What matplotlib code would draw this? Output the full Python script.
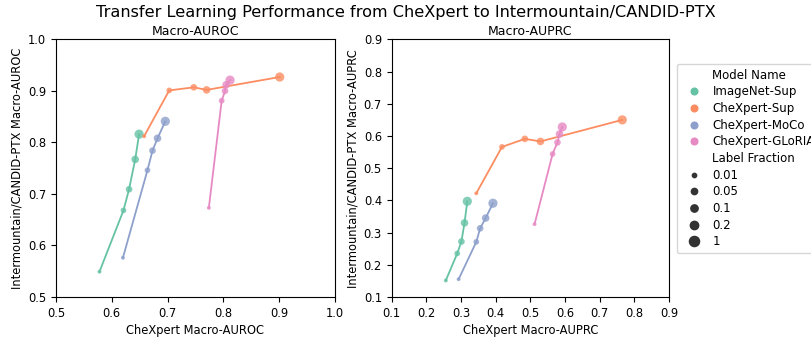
import matplotlib
matplotlib.use("Agg")
import matplotlib.pyplot as plt
from matplotlib.lines import Line2D

# label fractions and model names
fractions = ["0.01", "0.05", "0.1", "0.2", "1"]
models = ["ImageNet-Sup", "CheXpert-Sup", "CheXpert-MoCo", "CheXpert-GLoRIA"]
colors = ["#66c2a5", "#fc8d62", "#8da0cb", "#e78ac3"]

# Macro-AUROC: CheXpert (x) vs Intermountain/CANDID-PTX (y)
auroc_x = {
    "ImageNet-Sup": [0.578, 0.621, 0.631, 0.642, 0.649],
    "CheXpert-Sup": [0.658, 0.703, 0.747, 0.770, 0.901],
    "CheXpert-MoCo": [0.620, 0.664, 0.673, 0.682, 0.696],
    "CheXpert-GLoRIA": [0.774, 0.797, 0.803, 0.805, 0.812],
}
auroc_y = {
    "ImageNet-Sup": [0.549, 0.668, 0.709, 0.767, 0.816],
    "CheXpert-Sup": [0.812, 0.901, 0.907, 0.902, 0.927],
    "CheXpert-MoCo": [0.576, 0.746, 0.784, 0.808, 0.841],
    "CheXpert-GLoRIA": [0.673, 0.881, 0.900, 0.912, 0.921],
}

# Macro-AUPRC
auprc_x = {
    "ImageNet-Sup": [0.256, 0.289, 0.301, 0.310, 0.318],
    "CheXpert-Sup": [0.344, 0.418, 0.484, 0.529, 0.765],
    "CheXpert-MoCo": [0.293, 0.344, 0.355, 0.371, 0.392],
    "CheXpert-GLoRIA": [0.512, 0.564, 0.578, 0.584, 0.592],
}
auprc_y = {
    "ImageNet-Sup": [0.151, 0.235, 0.272, 0.330, 0.397],
    "CheXpert-Sup": [0.422, 0.566, 0.591, 0.583, 0.650],
    "CheXpert-MoCo": [0.155, 0.271, 0.313, 0.345, 0.391],
    "CheXpert-GLoRIA": [0.326, 0.544, 0.580, 0.606, 0.628],
}

sizes = [8, 17, 23, 30, 44]

fig = plt.figure(figsize=(8.11, 3.37), dpi=100)
ax1 = fig.add_axes([0.069, 0.119, 0.344, 0.764])
ax2 = fig.add_axes([0.483, 0.119, 0.342, 0.764])


def draw(ax, xs, ys, title, xlabel, ylabel, lim):
    for m, c in zip(models, colors):
        ax.plot(xs[m], ys[m], color=c, lw=1.3, zorder=2)
        ax.scatter(xs[m], ys[m], s=sizes, color=c, alpha=0.8, linewidths=0, zorder=3)
    ax.set_xlim(lim)
    ax.set_ylim(lim)
    ax.set_title(title, fontsize=9, pad=3)
    ax.set_xlabel(xlabel, fontsize=8.3, labelpad=3)
    ax.set_ylabel(ylabel, fontsize=8.3, labelpad=3)
    ax.tick_params(labelsize=8.3)


draw(ax1, auroc_x, auroc_y, "Macro-AUROC", "CheXpert Macro-AUROC",
     "Intermountain/CANDID-PTX Macro-AUROC", (0.5, 1.0))
draw(ax2, auprc_x, auprc_y, "Macro-AUPRC", "CheXpert Macro-AUPRC",
     "Intermountain/CANDID-PTX Macro-AUPRC", (0.1, 0.9))

fig.suptitle("Transfer Learning Performance from CheXpert to Intermountain/CANDID-PTX",
             fontsize=11.6, y=0.985)

handles = [Line2D([], [], linestyle="none", marker="")]
labels = ["Model Name"]
for m, c in zip(models, colors):
    handles.append(Line2D([], [], linestyle="none", marker="o", color=c, markersize=4.8))
    labels.append(m)
handles.append(Line2D([], [], linestyle="none", marker=""))
labels.append("Label Fraction")
for f, s in zip(fractions, sizes):
    handles.append(Line2D([], [], linestyle="none", marker="o", color="#333333",
                          markersize=s ** 0.5 * 1.1))
    labels.append(f)

fig.legend(handles, labels, loc="upper left", bbox_to_anchor=(677 / 811, 1 - 64 / 337),
           borderaxespad=0, fontsize=8.5, frameon=True, handlelength=2.0,
           handletextpad=0.6, labelspacing=0.31)

fig.savefig("out.png", dpi=100)
